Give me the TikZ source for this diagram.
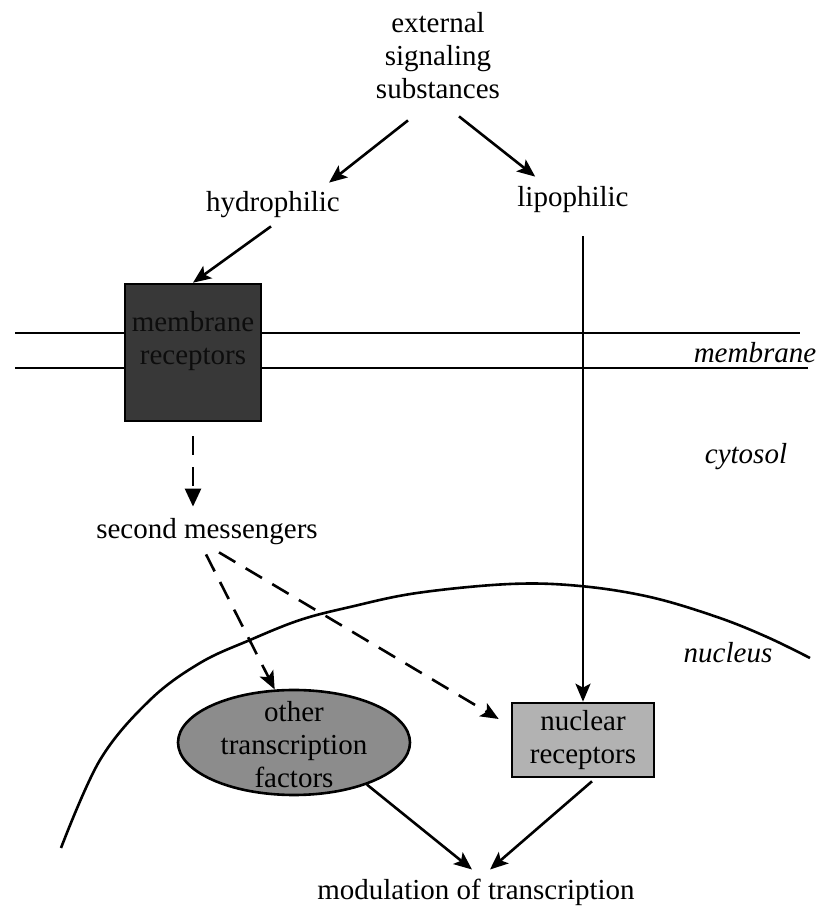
\documentclass[tikz,border=0pt]{standalone}
\usepackage{fontspec}
\setmainfont{Liberation Serif}
\usetikzlibrary{arrows.meta,shapes.geometric}

\begin{document}
\begin{tikzpicture}[x=1pt, y=1pt,
    lbl/.style={inner sep=0pt, align=center, font=\fontsize{29}{33}\selectfont},
    place/.style={lbl, font=\fontsize{29}{33}\selectfont\itshape},
    arr/.style={line width=2.6pt, -{Stealth[length=18pt,width=15pt,inset=4pt]}},
    dasharr/.style={arr, dash pattern=on 19pt off 12pt},
    recbox/.style={draw, line width=2.6pt, fill=black!78, minimum width=136pt, minimum height=137pt},
    nrbox/.style={lbl, draw, line width=2.6pt, fill=black!30, minimum width=142pt, minimum height=74pt},
    tfell/.style={ellipse, draw, line width=2.6pt, fill=black!45, inner sep=0pt, minimum width=232pt, minimum height=105pt}]
    \useasboundingbox (0,0) rectangle (817,911);
    % membrane and nuclear envelope
    \draw[line width=2.6pt] (15,578) -- (800,578);
    \draw[line width=2.6pt] (15,543) -- (808,543);
    \draw[line width=2.6pt] plot[smooth, tension=0.6] coordinates {(61,63) (100,151) (150,211) (200,248) (250,271) (300,291) (350,304) (417,318) (510,327) (580,325) (650,314) (717,294) (767,274) (810,253)};
    \node[lbl] (ext) at (438,855) {external\\signaling\\substances};
    \node[lbl] (hyd) at (273,706) {hydrophilic};
    \node[lbl] (lip) at (573,711) {lipophilic};
    \node[recbox] (rec) at (193,558.5) {};
    \node[lbl, text=black!95] (rectxt) at (193,569.5) {membrane\\receptors};
    \node[place] (mem) at (755,558) {membrane};
    \node[place] (cyt) at (746,454) {cytosol};
    \node[place] (nuc) at (728,258) {nucleus};
    \node[lbl] (sm) at (207,379) {second messengers};
    \node[tfell] (otf) at (294,168.5) {};
    \node[lbl] (otftxt) at (294,166) {other\\transcription\\factors};
    \node[nrbox] (nr) at (583,171) {nuclear\\receptors};
    \node[lbl] (mod) at (476,19) {modulation of transcription};
    % arrows
    \draw[arr] ([xshift=-30pt,yshift=-21pt]ext.south) -- ([xshift=-11pt,yshift=9pt]hyd.north east);
    \draw[arr] ([xshift=21pt,yshift=-17pt]ext.south) -- ([xshift=18pt,yshift=10pt]lip.north west);
    \draw[arr] ([xshift=-2pt,yshift=-8pt]hyd.south) -- (rec.north);
    \coordinate (lipfoot) at ([yshift=-23pt]lip.south);
    \draw[arr] (lipfoot -| nr.north) -- (nr.north);
    \coordinate (smtop) at ([yshift=12pt]sm.north);
    \draw[dasharr, -{Triangle[length=18pt,width=16pt]}] ([yshift=-14pt]rec.south) -- (smtop -| rec.south);
    \draw[dasharr] ([xshift=-1pt,yshift=-9pt]sm.south) -- (otf.110);
    \draw[dasharr] ([xshift=12pt,yshift=-7pt]sm.south) -- ([xshift=-12pt,yshift=21pt]nr.west);
    \draw[arr] (otf.-30) -- ([xshift=-4pt,yshift=9pt]mod.north);
    \draw[arr] ([xshift=9pt,yshift=-3pt]nr.south) -- ([xshift=14pt,yshift=9pt]mod.north);
\end{tikzpicture}
\end{document}
